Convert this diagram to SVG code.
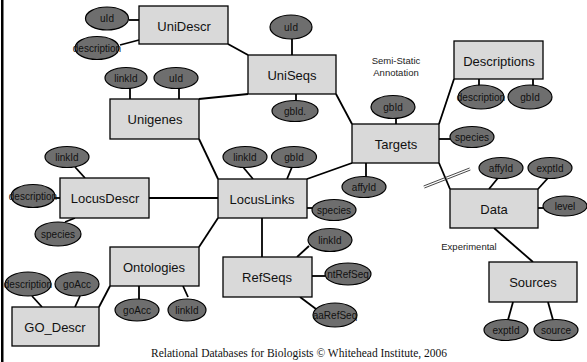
<svg xmlns="http://www.w3.org/2000/svg" width="587" height="362" viewBox="0 0 587 362">
<style>
.ent rect{fill:#d9d9d9;stroke:#000;stroke-width:1.3}
.ent text{font-family:"Liberation Sans",Arial,sans-serif;font-size:13px;fill:#111;text-anchor:middle;dominant-baseline:central}
.att ellipse{fill:#6e6e6e;stroke:#000;stroke-width:1.2}
.att text{font-family:"Liberation Sans",Arial,sans-serif;font-size:10px;fill:#111;text-anchor:middle;dominant-baseline:central}
.conn line{stroke:#000;stroke-width:1.8}
.conn line.dbl{stroke:#333;stroke-width:0.9}
.lbl{font-family:"Liberation Sans",Arial,sans-serif;font-size:9.5px;fill:#222;text-anchor:middle}
</style>
<rect x="0" y="0" width="587" height="362" fill="#fff"/>
<rect x="1" y="0" width="2.5" height="362" fill="#000"/>

<g id="connectors" class="conn">
<line x1="129" y1="20" x2="139" y2="20"/>
<line x1="120" y1="45" x2="139" y2="40"/>
<line x1="228" y1="44" x2="248" y2="55"/>
<line x1="292" y1="39" x2="292" y2="55"/>
<line x1="130" y1="88" x2="130" y2="99"/>
<line x1="179" y1="88" x2="179" y2="99"/>
<line x1="199" y1="99" x2="248" y2="94"/>
<line x1="296" y1="94" x2="296" y2="101"/>
<line x1="336" y1="94" x2="352" y2="124"/>
<line x1="454" y1="79" x2="439" y2="124"/>
<line x1="479" y1="79" x2="479" y2="86"/>
<line x1="533" y1="79" x2="533" y2="86"/>
<line x1="396" y1="118" x2="396" y2="124"/>
<line x1="439" y1="139" x2="450" y2="139"/>
<line x1="366" y1="163" x2="366" y2="177"/>
<line x1="199" y1="139" x2="218" y2="179"/>
<line x1="243" y1="167" x2="253" y2="179"/>
<line x1="292" y1="167" x2="287" y2="179"/>
<line x1="307" y1="179" x2="352" y2="163"/>
<line x1="303" y1="208" x2="312" y2="208"/>
<line x1="149" y1="198" x2="218" y2="198"/>
<line x1="75" y1="167" x2="85" y2="178"/>
<line x1="55" y1="198" x2="60" y2="198"/>
<line x1="65" y1="222" x2="75" y2="218"/>
<line x1="218" y1="218" x2="199" y2="247"/>
<line x1="262" y1="218" x2="262" y2="257"/>
<line x1="297" y1="257" x2="309" y2="246"/>
<line x1="312" y1="276" x2="325" y2="276"/>
<line x1="300" y1="297" x2="316" y2="309"/>
<line x1="139" y1="286" x2="139" y2="299"/>
<line x1="183" y1="286" x2="188" y2="297"/>
<line x1="110" y1="286" x2="99" y2="307"/>
<line x1="32" y1="296" x2="42" y2="307"/>
<line x1="80" y1="296" x2="75" y2="307"/>
<line x1="439" y1="163" x2="450" y2="189"/>
<line x1="498" y1="178" x2="489" y2="189"/>
<line x1="548" y1="178" x2="538" y2="189"/>
<line x1="538" y1="208" x2="544" y2="208"/>
<line x1="494" y1="228" x2="533" y2="262"/>
<line x1="513" y1="302" x2="508" y2="320"/>
<line x1="548" y1="302" x2="553" y2="320"/>
<line class="dbl" x1="423.6" y1="186" x2="469.6" y2="168"/>
<line class="dbl" x1="424.4" y1="188" x2="470.4" y2="170"/>
</g>

<g id="UniDescr" class="ent"><rect x="139" y="6" width="89" height="38"/><text x="184" y="26">UniDescr</text></g>
<g id="UniSeqs" class="ent"><rect x="248" y="55" width="88" height="39"/><text x="292" y="75">UniSeqs</text></g>
<g id="Unigenes" class="ent"><rect x="110" y="99" width="89" height="40"/><text x="155" y="119">Unigenes</text></g>
<g id="Descriptions" class="ent"><rect x="454" y="41" width="89" height="38"/><text x="499" y="61">Descriptions</text></g>
<g id="Targets" class="ent"><rect x="352" y="124" width="87" height="39"/><text x="396" y="144">Targets</text></g>
<g id="LocusDescr" class="ent"><rect x="60" y="178" width="89" height="40"/><text x="105" y="198">LocusDescr</text></g>
<g id="LocusLinks" class="ent"><rect x="218" y="179" width="89" height="39"/><text x="262" y="199">LocusLinks</text></g>
<g id="Data" class="ent"><rect x="450" y="189" width="88" height="39"/><text x="494" y="209">Data</text></g>
<g id="Ontologies" class="ent"><rect x="110" y="247" width="89" height="39"/><text x="154" y="267">Ontologies</text></g>
<g id="GO_Descr" class="ent"><rect x="12" y="307" width="87" height="39"/><text x="55" y="327">GO_Descr</text></g>
<g id="RefSeqs" class="ent"><rect x="223" y="257" width="89" height="40"/><text x="267" y="277">RefSeqs</text></g>
<g id="Sources" class="ent"><rect x="489" y="262" width="88" height="40"/><text x="533" y="282">Sources</text></g>

<g id="UniDescr_uId" class="att"><ellipse cx="107" cy="18.5" rx="21.5" ry="11.5"/><text x="107" y="18.5">uId</text></g>
<g id="UniDescr_description" class="att"><ellipse cx="97" cy="48" rx="22" ry="11.5"/><text x="97" y="48">description</text></g>
<g id="UniSeqs_uId" class="att"><ellipse cx="291" cy="27" rx="21" ry="12"/><text x="291" y="27">uId</text></g>
<g id="Unigenes_linkId" class="att"><ellipse cx="126" cy="78" rx="21" ry="10.5"/><text x="126" y="78">linkId</text></g>
<g id="Unigenes_uId" class="att"><ellipse cx="176" cy="78" rx="22" ry="10.5"/><text x="176" y="78">uId</text></g>
<g id="UniSeqs_gbId" class="att"><ellipse cx="295" cy="111" rx="23" ry="10.5"/><text x="295" y="111">gbId.</text></g>
<g id="Descriptions_description" class="att"><ellipse cx="481" cy="97" rx="23" ry="12"/><text x="481" y="97">description</text></g>
<g id="Descriptions_gbId" class="att"><ellipse cx="530" cy="97" rx="22" ry="12"/><text x="530" y="97">gbId</text></g>
<g id="Targets_gbId" class="att"><ellipse cx="393" cy="107" rx="22" ry="11.5"/><text x="393" y="107">gbId</text></g>
<g id="Targets_species" class="att"><ellipse cx="472" cy="137" rx="22" ry="10.5"/><text x="472" y="137">species</text></g>
<g id="Targets_affyId" class="att"><ellipse cx="364" cy="187" rx="22" ry="10.5"/><text x="364" y="187">affyId</text></g>
<g id="LocusLinks_linkId" class="att"><ellipse cx="245" cy="157" rx="22" ry="10.5"/><text x="245" y="157">linkId</text></g>
<g id="LocusLinks_gbId" class="att"><ellipse cx="294" cy="157" rx="22.5" ry="10.5"/><text x="294" y="157">gbId</text></g>
<g id="LocusLinks_species" class="att"><ellipse cx="334" cy="210" rx="22" ry="10.5"/><text x="334" y="210">species</text></g>
<g id="LocusDescr_linkId" class="att"><ellipse cx="67" cy="157" rx="22" ry="10.5"/><text x="67" y="157">linkId</text></g>
<g id="LocusDescr_description" class="att"><ellipse cx="33" cy="196" rx="22" ry="11.5"/><text x="33" y="196">description</text></g>
<g id="LocusDescr_species" class="att"><ellipse cx="58" cy="234" rx="23" ry="12"/><text x="58" y="234">species</text></g>
<g id="RefSeqs_linkId" class="att"><ellipse cx="330" cy="240" rx="22" ry="11.5"/><text x="330" y="240">linkId</text></g>
<g id="RefSeqs_ntRefSeq" class="att"><ellipse cx="348" cy="274" rx="23" ry="11"/><text x="348" y="274">ntRefSeq</text></g>
<g id="RefSeqs_aaRefSeq" class="att"><ellipse cx="335" cy="315" rx="22" ry="12"/><text x="335" y="315">aaRefSeq</text></g>
<g id="Ontologies_goAcc" class="att"><ellipse cx="137" cy="310" rx="22" ry="11"/><text x="137" y="310">goAcc</text></g>
<g id="Ontologies_linkId" class="att"><ellipse cx="187" cy="310" rx="19" ry="11"/><text x="187" y="310">linkId</text></g>
<g id="GO_Descr_description" class="att"><ellipse cx="28" cy="284" rx="23" ry="12"/><text x="28" y="284">description</text></g>
<g id="GO_Descr_goAcc" class="att"><ellipse cx="77" cy="284" rx="22" ry="12"/><text x="77" y="284">goAcc</text></g>
<g id="Data_affyId" class="att"><ellipse cx="501" cy="168" rx="22" ry="10.5"/><text x="501" y="168">affyId</text></g>
<g id="Data_exptId" class="att"><ellipse cx="550" cy="168" rx="22" ry="10.5"/><text x="550" y="168">exptId</text></g>
<g id="Data_level" class="att"><ellipse cx="565" cy="206" rx="22" ry="10"/><text x="565" y="206">level</text></g>
<g id="Sources_exptId" class="att"><ellipse cx="506" cy="330" rx="22" ry="10.5"/><text x="506" y="330">exptId</text></g>
<g id="Sources_source" class="att"><ellipse cx="556" cy="330" rx="22" ry="10.5"/><text x="556" y="330">source</text></g>

<text class="lbl" x="396" y="64">Semi-Static</text>
<text class="lbl" x="396" y="76">Annotation</text>
<text class="lbl" x="469" y="250">Experimental</text>
<text x="299" y="357" font-family="'Liberation Serif','Times New Roman',serif" font-size="11.5" fill="#111" text-anchor="middle">Relational Databases for Biologists © Whitehead Institute, 2006</text>
</svg>
